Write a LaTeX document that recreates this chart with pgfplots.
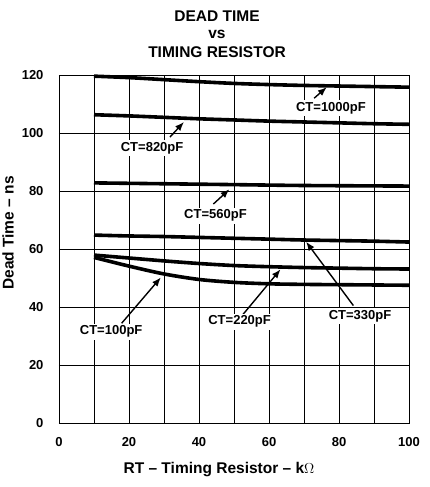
\documentclass[border=0pt]{standalone}
\usepackage{fontspec}
\setmainfont{Liberation Sans}
\usepackage{pgfplots}
\pgfplotsset{compat=1.18}
\usetikzlibrary{arrows.meta}
\begin{document}
\begin{tikzpicture}[x=1pt,y=1pt]
\path[use as bounding box] (-59,-63.7) rectangle (371,423.3);
\begin{axis}[
  at={(0,0)}, anchor=south west,
  scale only axis, width=350pt, height=348pt,
  xmin=0, xmax=100, ymin=0, ymax=120,
  xtick={0,20,...,100}, minor xtick={10,30,...,90},
  ytick={0,20,...,120},
  grid=both,
  major grid style={black, line width=0.7pt},
  minor grid style={black, line width=0.7pt},
  axis line style={black, line width=0.9pt},
  major tick length=0pt, minor tick length=0pt,
  /pgf/number format/assume math mode=true,
  ticklabel style={font=\bfseries\fontsize{13}{15}\selectfont},
  xticklabel style={yshift=-11pt},
  yticklabel style={xshift=-12pt},
  clip=false,
]
\addplot[black, line width=3.6pt, smooth] coordinates {(10,119.7)(20,119.2)(30,118.5)(40,117.8)(50,117.2)(60,116.8)(70,116.5)(80,116.3)(90,116.1)(100,115.9)};
\addplot[black, line width=3.6pt, smooth] coordinates {(10,106.4)(20,106.0)(30,105.5)(40,105.0)(50,104.6)(60,104.2)(70,103.9)(80,103.6)(90,103.3)(100,103.1)};
\addplot[black, line width=3.6pt, smooth] coordinates {(10,82.9)(30,82.6)(50,82.3)(70,82.0)(100,81.8)};
\addplot[black, line width=3.6pt, smooth] coordinates {(10,64.9)(20,64.6)(30,64.4)(40,64.1)(50,63.8)(60,63.5)(70,63.2)(80,63.0)(90,62.8)(100,62.5)};
\addplot[black, line width=3.6pt, smooth] coordinates {(10,58.0)(20,57.0)(30,56.0)(40,55.1)(50,54.4)(60,54.0)(70,53.7)(80,53.5)(90,53.3)(100,53.2)};
\addplot[black, line width=3.6pt, smooth] coordinates {(10,57.2)(20,54.2)(30,51.5)(40,49.6)(50,48.6)(60,48.1)(70,47.9)(80,47.8)(90,47.7)(100,47.6)};
\tikzset{lbl/.style={fill=white, inner sep=2pt, font=\bfseries\fontsize{13}{15}\selectfont},
         arr/.style={line width=1.4pt, -{Latex[length=9pt,width=7pt]}}}
\draw[arr] (axis cs:72.9,112.1) -- (axis cs:76.5,115.9);
\node[lbl] at (axis cs:77.7,108.6) {CT=1000pF};
\draw[arr] (axis cs:31.7,98.7) -- (axis cs:35.7,103.9);
\node[lbl] at (axis cs:26.6,94.9) {CT=820pF};
\draw[arr] (axis cs:44.1,75.6) -- (axis cs:48.7,80.7);
\node[lbl] at (axis cs:44.7,71.6) {CT=560pF};
\draw[arr] (axis cs:84.1,40.6) -- (axis cs:70.6,62.6);
\node[lbl] at (axis cs:86,37) {CT=330pF};
\draw[arr] (axis cs:52.2,37) -- (axis cs:63.3,53.1);
\node[lbl] at (axis cs:51.6,35.0) {CT=220pF};
\draw[arr] (axis cs:17.9,34.5) -- (axis cs:29.1,50.3);
\node[lbl] at (axis cs:14.9,31.6) {CT=100pF};
\end{axis}
\begin{scope}[font=\bfseries\fontsize{15.5}{17}\selectfont]
\node at (158,407.3) {DEAD TIME};
\node at (158,389.3) {vs};
\node at (158,371.3) {TIMING RESISTOR};
\node at (160,-46.7) {RT -- Timing Resistor -- k$\Omega$};
\node[rotate=90] at (-51,190.3) {Dead Time -- ns};
\end{scope}
\end{tikzpicture}
\end{document}
